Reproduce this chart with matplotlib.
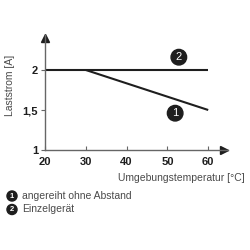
import matplotlib
matplotlib.use("Agg")
import matplotlib.pyplot as plt

plt.rcParams["font.family"] = ["Liberation Sans", "DejaVu Sans"]

# Derating curves: load current vs. ambient temperature
temp_row = [30, 60]        # curve 1: mounted side by side without spacing
current_row = [2.0, 1.5]
temp_single = [20, 60]     # curve 2: single device
current_single = [2.0, 2.0]

x_ticks = [20, 30, 40, 50, 60]
x_tick_labels = ["20", "30", "40", "50", "60"]
y_ticks = [1, 1.5, 2]
y_tick_labels = ["1", "1,5", "2"]

legend_labels = ["angereiht ohne Abstand", "Einzelgerät"]

_INK = "#1e1e1e"
_TEXT = "#4a4a4a"

fig = plt.figure(figsize=(2.5, 2.5), dpi=100)
ax = fig.add_axes([0.18, 0.40, 0.732, 0.46])
ax.set_xlim(20, 64.85)
ax.set_ylim(1, 2.4375)

ax.plot(temp_single, current_single, color=_INK, lw=1.5, solid_capstyle="butt")
ax.plot(temp_row, current_row, color=_INK, lw=1.5, solid_capstyle="butt")

for side in ("top", "right"):
    ax.spines[side].set_visible(False)
for side in ("left", "bottom"):
    ax.spines[side].set_color("#666666")
    ax.spines[side].set_linewidth(1.0)

# arrow heads on the axes
ax.plot(0, 0.97, "^", color=_INK, ms=6, transform=ax.transAxes, clip_on=False)
ax.plot(0.98, 0, ">", color=_INK, ms=6, transform=ax.transAxes, clip_on=False)

ax.set_xticks(x_ticks, x_tick_labels)
ax.set_yticks(y_ticks, y_tick_labels)
ax.tick_params(axis="x", direction="in", length=3, color="#666666", pad=5,
               labelsize=8, labelcolor=_INK)
ax.tick_params(axis="y", direction="out", length=3, color="#666666", pad=2,
               labelsize=8, labelcolor=_INK)
for lab in ax.get_xticklabels() + ax.get_yticklabels():
    lab.set_fontweight("bold")

fig.text(0.98, 0.288, "Umgebungstemperatur [°C]", ha="right", va="center",
         fontsize=7.5, color=_TEXT)
fig.text(0.04, 0.66, "Laststrom [A]", ha="center", va="center", rotation=90,
         fontsize=7.5, color=_TEXT)

circle = dict(boxstyle="circle,pad=0.25", fc=_INK, ec=_INK)
ax.text(52.8, 2.16, "2", ha="center", va="center", color="white",
        fontsize=8, bbox=circle)
ax.text(51.9, 1.46, "1", ha="center", va="center", color="white",
        fontsize=8, bbox=circle)

small = dict(boxstyle="circle,pad=0.2", fc=_INK, ec=_INK)
for i, label in enumerate(legend_labels):
    y = 0.216 - i * 0.054
    fig.text(0.048, y, str(i + 1), ha="center", va="center", color="white",
             fontsize=5.5, fontweight="bold", bbox=small)
    fig.text(0.09, y, label, ha="left", va="center", fontsize=7.5, color=_TEXT)

fig.savefig("out.png", dpi=100, facecolor="white")
